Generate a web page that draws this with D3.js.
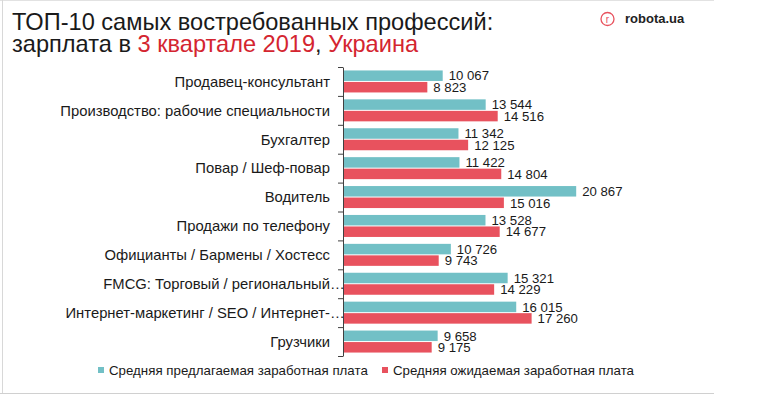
<!DOCTYPE html>
<html>
<head>
<meta charset="utf-8">
<script src="https://cdn.jsdelivr.net/npm/d3@7"></script>
<style>
  body { margin: 0; background: #fff; }
  svg { display: block; font-family: "Liberation Sans", Arial, sans-serif; }
</style>
</head>
<body>
<div id="chart"></div>
<script>
// data
const categories = [
  'Продавец-консультант',
  'Производство: рабочие специальности',
  'Бухгалтер',
  'Повар / Шеф-повар',
  'Водитель',
  'Продажи по телефону',
  'Официанты / Бармены / Хостесс',
  'FMCG: Торговый / региональный…',
  'Интернет-маркетинг / SEO / Интернет-…',
  'Грузчики'
];
const offered = [10067, 13544, 11342, 11422, 20867, 13528, 10726, 15321, 16015, 9658];
const expected = [8823, 14516, 12125, 14804, 15016, 14677, 9743, 14229, 17260, 9175];
const seriesNames = ['Средняя предлагаемая заработная плата', 'Средняя ожидаемая заработная плата'];
const colors = ['#72c0c6', '#e8525e'];

const width = 765;
const height = 397;

const svg = d3.select('#chart')
  .append('svg')
  .attr('width', width)
  .attr('height', height);

// frame round the slide
svg.append('line').attr('x1', 0).attr('x2', 714).attr('y1', 0.5).attr('y2', 0.5).attr('stroke', '#e2e2e2');
svg.append('line').attr('x1', 2.5).attr('x2', 2.5).attr('y1', 0).attr('y2', 394).attr('stroke', '#d8d8d8');
svg.append('line').attr('x1', 0).attr('x2', 714).attr('y1', 393.5).attr('y2', 393.5).attr('stroke', '#d0d0d0');

// title
const title = svg.append('g').attr('font-size', 23.6).attr('fill', '#1a1a1a');
title.append('text').attr('x', 12).attr('y', 30).text('ТОП-10 самых востребованных профессий:');
const t2 = title.append('text').attr('x', 12).attr('y', 52);
t2.append('tspan').text('зарплата в ');
t2.append('tspan').attr('fill', '#d42530').text('3 квартале 2019');
t2.append('tspan').text(', ');
t2.append('tspan').attr('fill', '#d42530').text('Украина');

// logo
svg.append('circle').attr('cx', 607.5).attr('cy', 19).attr('r', 6.5)
  .attr('fill', 'none').attr('stroke', '#e8525e').attr('stroke-width', 1.3);
svg.append('text').attr('x', 607.5).attr('y', 22.5).attr('text-anchor', 'middle')
  .attr('font-size', 10).attr('fill', '#e8525e').text('r');
svg.append('text').attr('x', 625).attr('y', 23).attr('font-size', 13).attr('font-weight', 'bold')
  .attr('fill', '#222').text('robota.ua');

// scales
const x = d3.scaleLinear()
  .domain([2000, 22000])
  .range([343, 590.2]);

const y = d3.scaleBand()
  .domain(categories)
  .range([67, 356]);

const ySub = d3.scaleBand()
  .domain([0, 1])
  .range([0, y.bandwidth()])
  .paddingInner(0.087)
  .paddingOuter(0.3);

const fmt = d3.formatLocale({ decimal: ',', thousands: ' ', grouping: [3], currency: ['', ''] }).format(',d');

const rows = categories.map((c, i) => ({ name: c, values: [offered[i], expected[i]] }));

const groups = svg.selectAll('g.row')
  .data(rows)
  .enter()
  .append('g')
  .attr('class', 'row')
  .attr('transform', d => 'translate(0,' + y(d.name) + ')');

groups.selectAll('rect')
  .data(d => d.values)
  .enter()
  .append('rect')
  .attr('x', x(2000))
  .attr('y', (d, i) => ySub(i))
  .attr('width', d => x(d) - x(2000))
  .attr('height', ySub.bandwidth())
  .attr('fill', (d, i) => colors[i]);

groups.selectAll('text.val')
  .data(d => d.values)
  .enter()
  .append('text')
  .attr('class', 'val')
  .attr('x', d => x(d) + 6)
  .attr('y', (d, i) => ySub(i) + ySub.bandwidth() / 2)
  .attr('dy', '0.36em')
  .attr('font-size', 13.2)
  .attr('fill', '#1a1a1a')
  .text(d => fmt(d));

// category labels, cut ones keep their ellipsis past the axis
groups.append('text')
  .attr('x', 330)
  .attr('y', y.bandwidth() / 2)
  .attr('dy', '0.36em')
  .attr('text-anchor', 'end')
  .attr('font-size', 14.8)
  .attr('fill', '#1a1a1a')
  .text(d => d.name.replace('…', ''));

groups.filter(d => d.name.endsWith('…'))
  .append('text')
  .attr('x', 330)
  .attr('y', y.bandwidth() / 2)
  .attr('dy', '0.36em')
  .attr('font-size', 14.8)
  .attr('fill', '#1a1a1a')
  .text('…');

// axis with ticks between categories
const yIdx = d3.scaleLinear().domain([0, categories.length]).range([67, 356]);
svg.append('g')
  .attr('transform', 'translate(' + x(2000) + ',0)')
  .call(d3.axisLeft(yIdx).tickValues(d3.range(categories.length + 1)).tickFormat('').tickSize(5).tickSizeOuter(0))
  .call(g => g.selectAll('line, path').attr('stroke', '#404040'));

// legend
const legend = svg.append('g').attr('font-size', 13.3).attr('fill', '#1a1a1a');
const legX = [98, 382];
seriesNames.forEach((s, i) => {
  legend.append('rect').attr('x', legX[i]).attr('y', 367).attr('width', 6).attr('height', 6).attr('fill', colors[i]);
  legend.append('text').attr('x', legX[i] + 11).attr('y', 374.5).text(s);
});
</script>
</body>
</html>
